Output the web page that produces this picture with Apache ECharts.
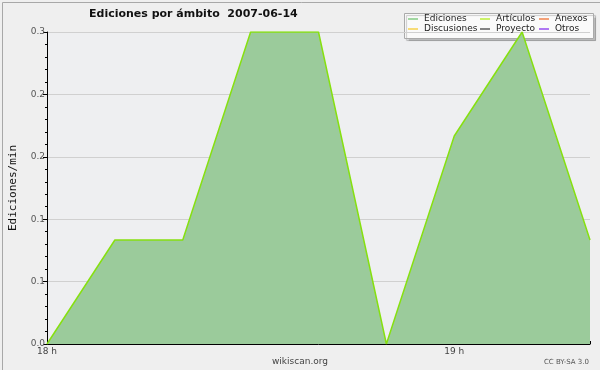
<!DOCTYPE html>
<html>
<head>
<meta charset="utf-8">
<script src="https://cdn.jsdelivr.net/npm/echarts@6/dist/echarts.min.js"></script>
<style>
  html, body { margin: 0; padding: 0; background: #efefef; }
  #chart { width: 600px; height: 370px; }
</style>
</head>
<body>
<div id="chart"></div>
<script>
// intervalos de 10 minutos
var horas = ['18:00', '18:10', '18:20', '18:30', '18:40', '18:50', '19:00', '19:10', '19:20'];
var ediciones = [0, 0.1, 0.1, 0.3, 0.3, 0, 0.2, 0.3, 0.1];
var articulos = [0, 0.1, 0.1, 0.3, 0.3, 0, 0.2, 0.3, 0.1];
var yTicks = [0, 0.06, 0.12, 0.18, 0.24, 0.3];

var colores = {
    'Ediciones': '#7cc87c',
    'Artículos': '#b6ec2a',
    'Anexos': '#f07a40',
    'Discusiones': '#f5cf40',
    'Proyecto': '#505050',
    'Otros': '#8f40f0'
};

var leyendaTexto = { fontFamily: 'DejaVu Sans', fontSize: 9, color: '#222', lineHeight: 10, padding: [0, 0, 0, 1] };

function columna(nombres, x) {
    return {
        orient: 'vertical',
        left: x,
        top: 14,
        itemGap: 0,
        itemWidth: 10,
        itemHeight: 1.4,
        icon: 'rect',
        padding: 0,
        textStyle: leyendaTexto,
        selectedMode: false,
        data: nombres
    };
}

var option = {
    backgroundColor: '#efefef',
    animation: false,
    title: {
        text: 'Ediciones por ámbito  2007-06-14',
        left: 84,
        top: 4,
        textStyle: { fontFamily: 'DejaVu Sans', fontSize: 11, fontWeight: 'bold', color: '#111' }
    },
    legend: [
        columna(['Ediciones', 'Discusiones'], 408),
        columna(['Artículos', 'Proyecto'], 480),
        columna(['Anexos', 'Otros'], 539)
    ],
    grid: { left: 47, right: 10, top: 32, bottom: 26, outerBoundsMode: 'none', containLabel: false, show: true, backgroundColor: '#eeeff1', borderWidth: 0 },
    xAxis: {
        type: 'category',
        data: horas,
        boundaryGap: false,
        axisLine: { lineStyle: { color: '#000', width: 1 } },
        axisTick: { show: true, inside: true, length: 3, lineStyle: { color: '#000' } },
        axisLabel: {
            interval: 0,
            margin: 3,
            fontFamily: 'DejaVu Sans',
            fontSize: 9,
            color: '#444',
            formatter: function (v) {
                return v.slice(3) === '00' ? v.slice(0, 2) + ' h' : '';
            }
        },
        splitLine: { show: false }
    },
    yAxis: {
        type: 'value',
        min: yTicks[0],
        max: yTicks[yTicks.length - 1],
        interval: yTicks[1] - yTicks[0],
        name: 'Ediciones/min',
        nameLocation: 'middle',
        nameGap: 28,
        nameRotate: 90,
        nameTextStyle: { fontFamily: 'DejaVu Sans Mono', fontSize: 11, color: '#111' },
        axisLine: { show: true, lineStyle: { color: '#000', width: 1 } },
        axisTick: { show: true, length: 4, lineStyle: { color: '#000' } },
        minorTick: { show: true, splitNumber: 5, length: 2, lineStyle: { color: '#000' } },
        axisLabel: {
            margin: 2,
            fontFamily: 'DejaVu Sans',
            fontSize: 9,
            color: '#555',
            formatter: function (v) { return v.toFixed(1); }
        },
        splitLine: { show: true, lineStyle: { color: '#d0d0d0', width: 1 } }
    },
    series: [
        {
            name: 'Ediciones',
            type: 'line',
            data: ediciones,
            symbol: 'none',
            color: colores['Ediciones'],
            lineStyle: { width: 0 },
            areaStyle: { color: '#9bcb9b', opacity: 1 }
        },
        {
            name: 'Artículos',
            type: 'line',
            data: articulos,
            symbol: 'none',
            color: colores['Artículos'],
            lineStyle: { color: '#86e010', width: 1.5 }
        },
        { name: 'Anexos', type: 'line', data: [], color: colores['Anexos'] },
        { name: 'Discusiones', type: 'line', data: [], color: colores['Discusiones'] },
        { name: 'Proyecto', type: 'line', data: [], color: colores['Proyecto'] },
        { name: 'Otros', type: 'line', data: [], color: colores['Otros'] }
    ],
    graphic: [
        {
            type: 'rect',
            left: 0, top: 0,
            shape: { width: 599, height: 368 },
            style: { fill: 'none', stroke: '#a8a8a8', lineWidth: 1 },
            silent: true,
            z: 100
        },
        {
            type: 'rect',
            left: 404, top: 13,
            shape: { width: 189, height: 25 },
            style: { fill: '#fafafa', stroke: '#aaa', lineWidth: 1, shadowColor: 'rgba(0,0,0,0.2)', shadowOffsetX: 2, shadowOffsetY: 2, shadowBlur: 1 },
            z: 0
        },
        {
            type: 'text',
            left: 'center',
            top: 357,
            style: { text: 'wikiscan.org', fontFamily: 'DejaVu Sans', fontSize: 9, fill: '#444' }
        },
        {
            type: 'text',
            right: 11,
            top: 359,
            style: { text: 'CC BY-SA 3.0', fontFamily: 'DejaVu Sans', fontSize: 7, fill: '#555' }
        }
    ]
};

var grafico = echarts.init(document.getElementById('chart'));
grafico.setOption(option);
</script>
</body>
</html>
